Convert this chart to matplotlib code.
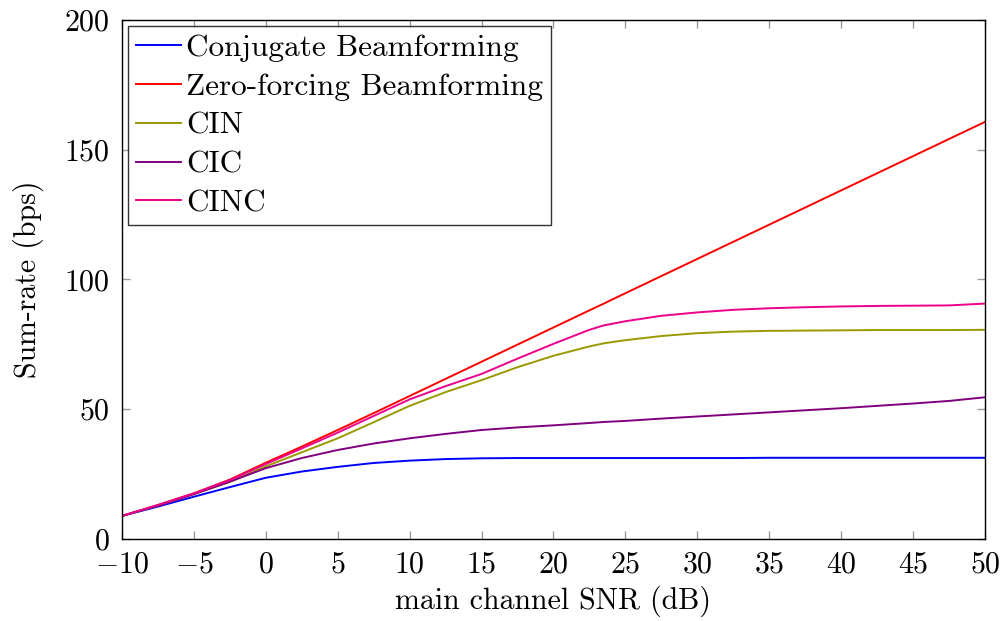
import matplotlib
matplotlib.use("Agg")
import matplotlib.pyplot as plt

plt.rcParams['font.family'] = 'serif'
plt.rcParams['font.serif'] = ['cmr10']
plt.rcParams['mathtext.fontset'] = 'cm'
plt.rcParams['axes.formatter.use_mathtext'] = True
plt.rcParams['axes.unicode_minus'] = True

# SNR grid (dB)
snr = [-10, -7.5, -5, -2.5, 0, 2.5, 5, 7.5, 10, 12.5, 15, 17.5, 20, 22.5, 23.5, 25,
       27.5, 30, 32.5, 35, 37.5, 40, 42.5, 45, 47.5, 50]

conj = [8.9, 12.5, 16.3, 20.0, 23.6, 26.0, 27.8, 29.3, 30.2, 30.8, 31.1, 31.2, 31.2, 31.2, 31.2, 31.2,
        31.2, 31.2, 31.2, 31.3, 31.3, 31.3, 31.3, 31.3, 31.3, 31.3]
zf = [8.9, 13.1, 17.6, 22.9, 29.4, 35.6, 42.0, 48.5, 55.1, 61.7, 68.3, 74.9, 81.5, 88.1, 90.7, 94.7,
      101.3, 107.9, 114.5, 121.1, 127.7, 134.3, 140.9, 147.5, 154.1, 160.7]
cin = [8.9, 12.9, 17.3, 22.0, 28.0, 33.4, 38.8, 45.0, 51.3, 56.6, 61.2, 66.2, 70.6, 74.2, 75.4, 76.6,
       78.2, 79.3, 79.9, 80.2, 80.3, 80.4, 80.5, 80.5, 80.5, 80.6]
cic = [8.9, 12.9, 17.3, 22.1, 27.3, 31.2, 34.3, 36.8, 38.8, 40.5, 42.0, 43.0, 43.8, 44.7, 45.1, 45.5,
       46.4, 47.2, 48.0, 48.8, 49.6, 50.4, 51.3, 52.2, 53.2, 54.6]
cinc = [8.9, 13.1, 17.6, 22.7, 28.9, 34.9, 41.0, 47.4, 53.8, 58.9, 63.6, 69.5, 75.2, 80.6, 82.3, 83.9,
        86.0, 87.3, 88.3, 88.9, 89.3, 89.6, 89.8, 89.9, 90.0, 90.7]

names = ['Conjugate Beamforming', 'Zero-forcing Beamforming', 'CIN', 'CIC', 'CINC']
colors = ['#0000ff', '#ff0000', '#999900', '#800080', '#ec008c']

fig = plt.figure(figsize=(10.03, 6.21), dpi=100)
ax = fig.add_axes([0.1216, 0.132, 0.8604, 0.836])

for y, name, c in zip([conj, zf, cin, cic, cinc], names, colors):
    ax.plot(snr, y, color=c, lw=1.4, label=name)

ax.set_xlim(-10, 50)
ax.set_ylim(0, 200)
ax.set_xticks(range(-10, 51, 5))
ax.set_yticks(range(0, 201, 50))
ax.tick_params(direction='in', top=True, right=True, length=6, width=1,
               color='#999999', labelsize=21.5)
ax.tick_params(axis='x', pad=9)
ax.tick_params(axis='y', pad=9)
for s in ax.spines.values():
    s.set_linewidth(1.0)

ax.set_xlabel('main channel SNR (dB)', fontsize=21.5, labelpad=5)
ax.set_ylabel('Sum-rate (bps)', fontsize=21.5, labelpad=14)

leg = ax.legend(loc='upper left', fontsize=22.5, frameon=True, fancybox=False,
                edgecolor='black', borderaxespad=0.2, handlelength=1.45,
                handletextpad=0.15, labelspacing=0.35, borderpad=0.25)
leg.get_frame().set_linewidth(1.0)

fig.savefig('out.png', dpi=100)
